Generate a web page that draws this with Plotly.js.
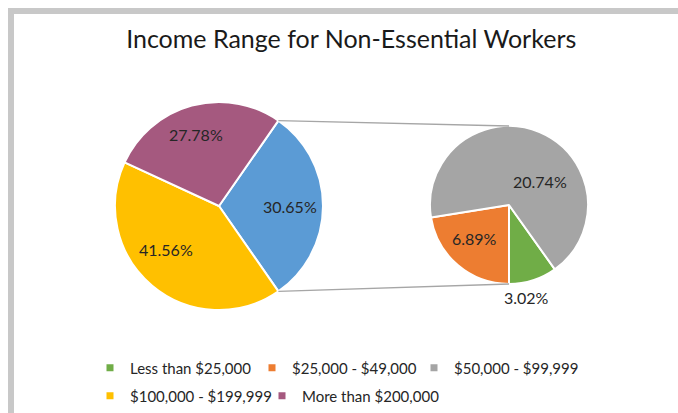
<!DOCTYPE html>
<html><head><meta charset="utf-8">
<script src="https://cdn.plot.ly/plotly-3.0.1.min.js"></script>
<style>html,body{margin:0;padding:0;background:#fff}#chart{width:678px;height:413px}</style>
</head><body><div id="chart"></div>
<script>
// ---- data ----
const title = 'Income Range for Non-Essential Workers';
const mainLabels = ['Less than $100,000', '$100,000 - $199,999', 'More than $200,000'];
const mainValues = [30.65, 41.56, 27.78];
const subLabels = ['Less than $25,000', '$25,000 - $49,000', '$50,000 - $99,999'];
const subValues = [3.02, 6.89, 20.74];
const legendLabels = ['Less than $25,000', '$25,000 - $49,000', '$50,000 - $99,999', '$100,000 - $199,999', 'More than $200,000'];

// ---- styles ----
const colorOf = {
  'Less than $100,000': '#5B9BD5',
  '$100,000 - $199,999': '#FFC000',
  'More than $200,000': '#A5597F',
  'Less than $25,000': '#70AD47',
  '$25,000 - $49,000': '#ED7D31',
  '$50,000 - $99,999': '#A5A5A5'
};
// label placement style: radial fraction and angular offset (deg) from slice mid-angle
const mainLabelRadius = [0.68, 0.66, 0.72];
const mainLabelTurn = [0, 11, -3];
const subLabelRadius = [1.19, 0.61, 0.5];
const subLabelTurn = [7, 6, 30];
// legend entry placement (px): left edge of each entry box and its row centre
const legendLeft = [90, 252, 414, 90, 262];
const legendMid = [368, 368, 368, 396, 396];

const W = 678, H = 413;
const FONT = 'Lato, "Open Sans", sans-serif';
const TXT = '#262626';

const mainC = {x: 219, y: 206, r: 104};
const subC = {x: 509, y: 205, r: 79};
function dom(c) {
  return {x: [(c.x - c.r) / W, (c.x + c.r) / W], y: [1 - (c.y + c.r) / H, 1 - (c.y - c.r) / H]};
}
const sum = a => a.reduce((s, v) => s + v, 0);
const mainTotal = sum(mainValues), subTotal = sum(subValues);
const mainRot = 90 - (mainValues[0] / mainTotal) * 180;   // group slice centred on the right
const subRot = 180 - (subValues[0] / subTotal) * 360;     // first slice ends at 6 o'clock

const traces = [
  {
    type: 'pie', labels: mainLabels, values: mainValues, sort: false, direction: 'clockwise',
    rotation: mainRot, domain: dom(mainC), showlegend: false,
    marker: {colors: mainLabels.map(l => colorOf[l]), line: {color: '#ffffff', width: 2}},
    textinfo: 'none', hoverinfo: 'label+value'
  },
  {
    type: 'pie', labels: subLabels, values: subValues, sort: false, direction: 'clockwise',
    rotation: subRot, domain: dom(subC), showlegend: false,
    marker: {colors: subLabels.map(l => colorOf[l]), line: {color: '#ffffff', width: 2}},
    textinfo: 'none', hoverinfo: 'label+value'
  }
];

const px = v => v / W, py = v => 1 - v / H;
const deg = Math.PI / 180;

const layout = {
  width: W, height: H, margin: {l: 0, r: 0, t: 0, b: 0},
  paper_bgcolor: '#ffffff', plot_bgcolor: '#ffffff',
  title: {text: title, font: {family: FONT, size: 25, color: '#1a1a1a'}, x: 0.518, xanchor: 'center', y: 1 - 39 / H, yanchor: 'middle'},
  xaxis: {visible: false, domain: [0, 0.01]}, yaxis: {visible: false, domain: [0, 0.01]},
  showlegend: true
};

// one legend per entry so the grid matches the original
legendLabels.forEach((l, i) => {
  const key = i === 0 ? 'legend' : 'legend' + (i + 1);
  traces.push({type: 'scatter', mode: 'markers', x: [null], y: [null], name: l,
    marker: {symbol: 'square', size: 7, color: colorOf[l]}, legend: key, hoverinfo: 'skip'});
  layout[key] = {orientation: 'h', font: {family: FONT, size: 15, color: TXT}, bgcolor: 'rgba(0,0,0,0)',
    itemwidth: 30, xanchor: 'left', yanchor: 'middle', itemclick: false,
    x: px(legendLeft[i]), y: py(legendMid[i])};
});

// slice value labels, placed from each slice's mid-angle
function sliceLabels(values, total, rot, c, radius, turn) {
  const out = [];
  let start = rot;
  values.forEach((v, i) => {
    const span = v / total * 360;
    const mid = (start + span / 2 + turn[i]) * deg;
    const rr = radius[i] * c.r;
    out.push({xref: 'paper', yref: 'paper', x: px(c.x + rr * Math.sin(mid)), y: py(c.y - rr * Math.cos(mid)),
      text: v.toFixed(2) + '%', showarrow: false, xanchor: 'center', yanchor: 'middle',
      font: {family: FONT, size: 16, color: TXT}});
    start += span;
  });
  return out;
}
layout.annotations = sliceLabels(mainValues, mainTotal, mainRot, mainC, mainLabelRadius, mainLabelTurn)
  .concat(sliceLabels(subValues, subTotal, subRot, subC, subLabelRadius, subLabelTurn));

// connector lines from the group slice edges to the top/bottom of the secondary pie
const a1 = mainRot * deg, a2 = (mainRot + mainValues[0] / mainTotal * 360) * deg;
const p1 = {x: mainC.x + mainC.r * Math.sin(a1), y: mainC.y - mainC.r * Math.cos(a1)};
const p2 = {x: mainC.x + mainC.r * Math.sin(a2), y: mainC.y - mainC.r * Math.cos(a2)};
const q1 = {x: subC.x, y: subC.y - subC.r}, q2 = {x: subC.x, y: subC.y + subC.r};
const lineStyle = {color: '#A6A6A6', width: 1.3};
layout.shapes = [
  {type: 'rect', xref: 'paper', yref: 'paper', x0: px(8), x1: px(W), y0: py(8), y1: py(14), fillcolor: '#C8C8C8', line: {width: 0}, layer: 'below'},
  {type: 'rect', xref: 'paper', yref: 'paper', x0: px(8), x1: px(14), y0: py(8), y1: py(H), fillcolor: '#C8C8C8', line: {width: 0}, layer: 'below'},
  {type: 'line', xref: 'paper', yref: 'paper', x0: px(p1.x), y0: py(p1.y), x1: px(q1.x), y1: py(q1.y), line: lineStyle},
  {type: 'line', xref: 'paper', yref: 'paper', x0: px(p2.x), y0: py(p2.y), x1: px(q2.x), y1: py(q2.y), line: lineStyle}
];

Plotly.newPlot('chart', traces, layout, {displayModeBar: false, staticPlot: true});
</script></body></html>
